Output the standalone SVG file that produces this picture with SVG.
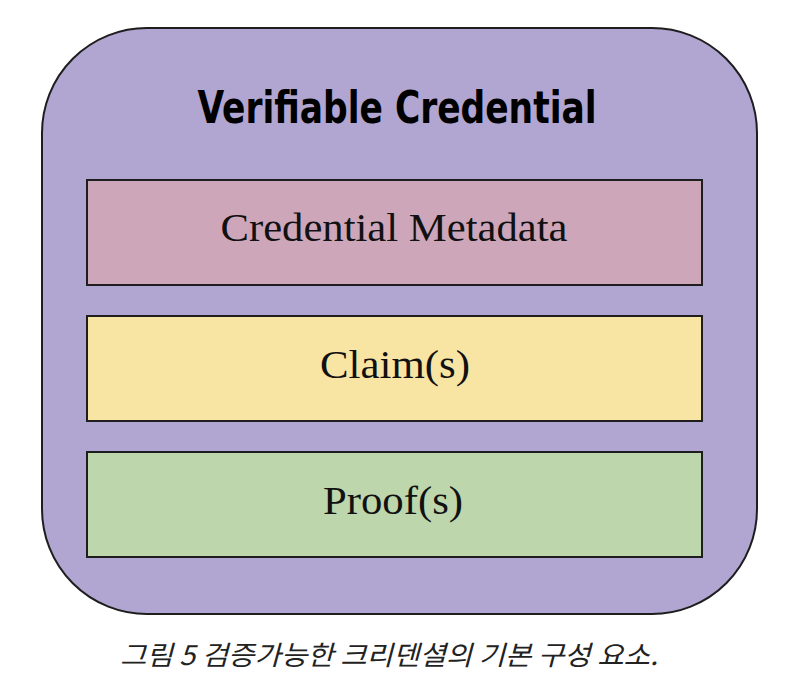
<svg xmlns="http://www.w3.org/2000/svg" width="794" height="692" viewBox="0 0 794 692">
<style>
.box{stroke:#1e1e1e;stroke-width:2}
.lbl{font-family:"Liberation Serif","DejaVu Serif",serif;font-size:41px;fill:#111;text-anchor:middle}
.title{font-family:"DejaVu Sans Condensed","DejaVu Sans",sans-serif;font-weight:bold;font-size:45px;fill:#000;text-anchor:middle}
.cap{font-family:"Noto Sans CJK KR","Noto Sans",sans-serif;font-style:italic;font-size:27px;fill:#222;text-anchor:middle}
</style>
<rect width="794" height="692" fill="#ffffff"/>
<g id="vc">
<rect class="box" x="42" y="28" width="715" height="586" rx="105" ry="105" fill="#b1a5d1"/>
<text class="title" x="397" y="123" textLength="399" lengthAdjust="spacingAndGlyphs">Verifiable Credential</text>
</g>
<g id="metadata">
<rect class="box" x="87" y="180" width="615" height="105" fill="#cea6ba"/>
<text class="lbl" x="394" y="241" textLength="347" lengthAdjust="spacingAndGlyphs">Credential Metadata</text>
</g>
<g id="claims">
<rect class="box" x="87" y="316" width="615" height="105" fill="#f9e5a3"/>
<text class="lbl" x="395" y="378" textLength="150" lengthAdjust="spacingAndGlyphs">Claim(s)</text>
</g>
<g id="proofs">
<rect class="box" x="87" y="452" width="615" height="105" fill="#bdd6ab"/>
<text class="lbl" x="393" y="514" textLength="140" lengthAdjust="spacingAndGlyphs">Proof(s)</text>
</g>
<g id="connectors"/>
<text class="cap" x="389" y="665" textLength="538" lengthAdjust="spacingAndGlyphs">그림 5 검증가능한 크리덴셜의 기본 구성 요소.</text>
</svg>
